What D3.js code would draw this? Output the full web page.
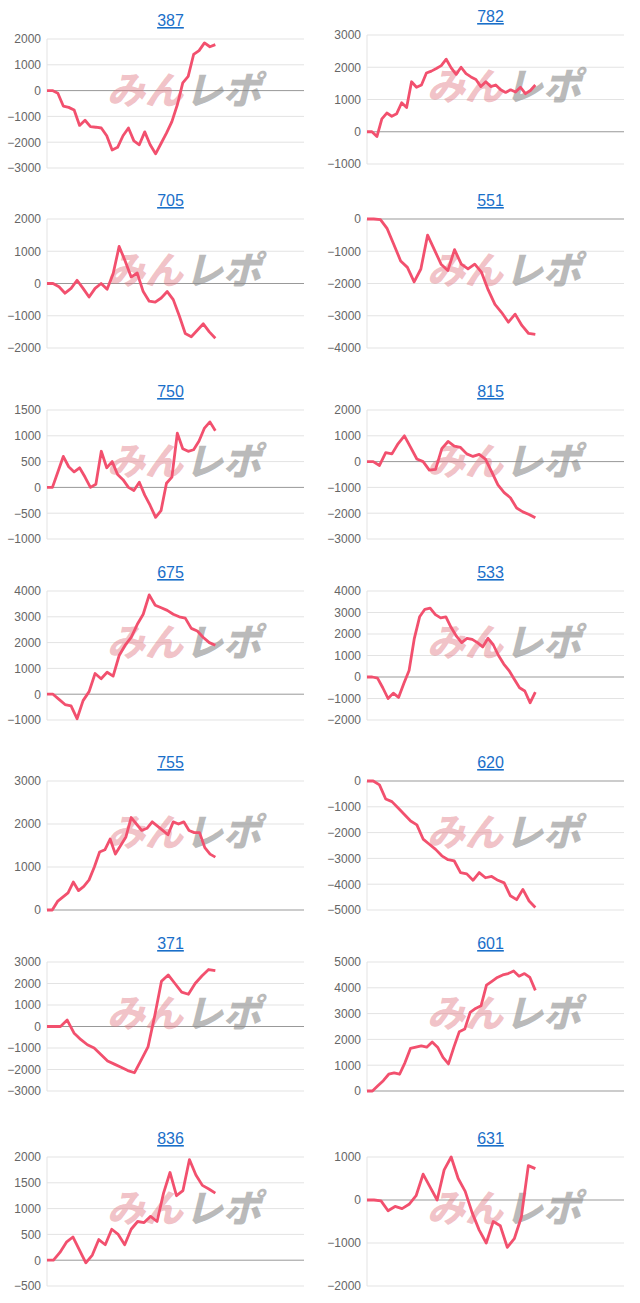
<!DOCTYPE html>
<html>
<head>
<meta charset="utf-8">
<script src="https://cdn.jsdelivr.net/npm/d3@7"></script>
<style>
  body { margin: 0; background: #fff; font-family: Arial, "Liberation Sans", sans-serif; }
  .tick text { fill: #666; font-size: 12px; }
  .title { fill: #1a6fc9; font-size: 16px; text-decoration: underline; }
</style>
</head>
<body>
<div id="chart"></div>
<script>
// machine numbers, in page order (left, right per row)
const names = ["387","782","705","551","750","815","675","533","755","620","371","601","836","631"]

// y axis ranges per chart [min, max, step]
const yRanges = [
  [-3000, 2000, 1000], [-1000, 3000, 1000],
  [-2000, 2000, 1000], [-4000, 0, 1000],
  [-1000, 1500, 500], [-3000, 2000, 1000],
  [-1000, 4000, 1000], [-2000, 4000, 1000],
  [0, 3000, 1000], [-5000, 0, 1000],
  [-3000, 3000, 1000], [0, 5000, 1000],
  [-500, 2000, 500], [-2000, 1000, 1000]
]

// cumulative difference per game
const s387 = [0,0,-100,-600,-650,-750,-1350,-1150,-1400,-1420,-1450,-1750,-2300,-2200,-1750,-1450,-1950,-2100,-1600,-2100,-2450,-2050,-1650,-1200,-550,300,550,1400,1550,1850,1700,1780]
const s782 = [0,0,-150,400,580,480,560,900,750,1550,1380,1450,1820,1880,1960,2050,2250,1980,1780,2000,1800,1700,1620,1400,1550,1400,1450,1300,1220,1300,1230,1380,1180,1280,1450]
const s705 = [0,0,-100,-300,-150,100,-150,-420,-150,0,-180,300,1150,700,200,330,-250,-550,-580,-450,-250,-500,-1000,-1550,-1650,-1450,-1250,-1500,-1700]
const s551 = [0,0,-20,-300,-800,-1300,-1500,-1950,-1550,-500,-950,-1400,-1600,-950,-1400,-1550,-1400,-1650,-2200,-2650,-2900,-3200,-2950,-3300,-3550,-3580]
const s750 = [0,0,300,600,400,300,380,200,0,60,700,380,500,250,150,0,-60,100,-150,-350,-580,-450,80,200,1050,750,700,730,900,1150,1270,1100]
const s815 = [0,0,-150,350,300,700,1000,550,100,0,-330,-300,500,780,600,550,300,200,280,100,-400,-900,-1200,-1400,-1800,-1950,-2050,-2180]
const s675 = [0,0,-200,-400,-450,-950,-250,100,800,600,850,700,1500,1900,2200,2700,3100,3850,3450,3350,3250,3100,3000,2950,2550,2450,2200,2000,1900]
const s533 = [0,0,-50,-500,-1000,-750,-950,-300,300,1800,2800,3150,3200,2900,2750,2800,2300,1900,1600,1800,1750,1600,1400,1800,1500,1000,600,300,-100,-500,-650,-1200,-700]
const s755 = [0,0,200,300,400,650,450,550,700,1000,1350,1400,1650,1300,1500,1700,2150,2000,1850,1900,2050,1950,1850,1750,2050,2000,2050,1850,1800,1800,1450,1300,1230]
const s620 = [0,0,-150,-700,-800,-1050,-1300,-1550,-1700,-2250,-2450,-2650,-2900,-3050,-3100,-3550,-3600,-3850,-3550,-3750,-3700,-3850,-3950,-4450,-4600,-4200,-4650,-4900]
const s371 = [0,0,0,300,-300,-600,-850,-1000,-1300,-1600,-1750,-1900,-2050,-2150,-1550,-950,500,2100,2400,2000,1600,1500,2000,2350,2650,2600]
const s601 = [0,0,200,400,650,700,650,1100,1650,1700,1750,1700,1900,1700,1300,1050,1700,2300,2400,3050,3200,3300,4100,4250,4400,4500,4550,4650,4450,4550,4400,3900]
const s836 = [0,0,150,350,450,200,-50,100,400,300,600,500,300,600,750,730,850,750,1300,1700,1250,1350,1950,1650,1450,1380,1300]
const s631 = [0,0,-20,-250,-150,-200,-100,100,600,300,0,700,1000,500,200,-300,-700,-1000,-500,-600,-1100,-900,-400,800,730]
const series = [s387,s782,s705,s551,s750,s815,s675,s533,s755,s620,s371,s601,s836,s631]

// layout
const W = 640, H = 1303
const titleY = [20, 200, 391, 572, 762, 943, 1138]
const colX = [47, 367]
const plotW = 257, plotH = 129
const usedFrac = 0.655   // data only fills part of the x range

const svg = d3.select("#chart").append("svg")
    .attr("width", W).attr("height", H)

names.forEach(function (name, i) {
    const row = Math.floor(i / 2), col = i % 2
    const dy = (row === 0 && col === 1) ? -4 : 0
    const top = titleY[row] + 19 + dy
    const g = svg.append("g").attr("transform", "translate(" + colX[col] + "," + top + ")")
    const data = series[i]
    const [ymin, ymax, step] = yRanges[i]

    const x = d3.scaleLinear().domain([0, (data.length - 1) / usedFrac]).range([0, plotW])
    const y = d3.scaleLinear().domain([ymin, ymax]).range([plotH, 0])
    const ticks = d3.range(ymin, ymax + 1, step)

    // grid
    g.selectAll(".grid").data(ticks).enter().append("line")
        .attr("x1", 0).attr("x2", plotW)
        .attr("y1", d => y(d)).attr("y2", d => y(d))
        .attr("stroke", d => d === 0 ? "#999" : "#e3e3e3")
        .attr("stroke-width", 1)
    g.append("line").attr("x1", 0).attr("x2", 0).attr("y1", 0).attr("y2", plotH)
        .attr("stroke", "#e3e3e3")

    const ax = g.append("g").call(d3.axisLeft(y).tickValues(ticks).tickFormat(d3.format("d")).tickSize(0).tickPadding(6))
    ax.select(".domain").remove()

    // title
    svg.append("text").attr("class", "title")
        .attr("x", colX[col] + plotW / 2 - 5).attr("y", titleY[row] + dy + 6)
        .attr("text-anchor", "middle").text(name)

    // watermark
    const wm = g.append("text")
        .attr("transform", "translate(60," + (plotH * 0.5) + ") skewX(-14)")
        .style("font-size", "38px").style("font-weight", "900")
        .style("font-family", "'Noto Sans CJK JP', sans-serif")
    wm.append("tspan").attr("fill", "rgba(225,120,130,0.45)").text("みん")
    wm.append("tspan").attr("fill", "rgba(140,140,140,0.6)").attr("dx", 2).text("レポ")

    g.append("path").datum(data)
        .attr("fill", "none").attr("stroke", "#f2506e").attr("stroke-width", 2.8)
        .attr("stroke-linejoin", "round")
        .attr("d", d3.line().x((d, j) => x(j)).y(d => y(d)))
})
</script>
</body>
</html>
